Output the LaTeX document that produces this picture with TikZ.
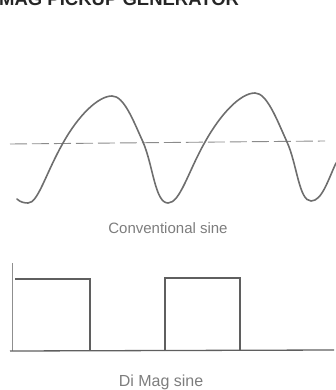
\documentclass[tikz,border=0pt]{standalone}
\usepackage{fontspec}
\setmainfont{Liberation Sans}
\definecolor{wave}{RGB}{110,110,110}
\definecolor{sq}{RGB}{95,95,95}
\definecolor{cap}{RGB}{125,125,125}
\tikzset{
  wavepath/.style={draw=wave, line width=1.6pt, line cap=round, line join=round},
  sqpath/.style={draw=sq, line width=1.3pt, line join=miter},
  axisline/.style={draw=sq!70, line width=0.9pt},
  refline/.style={draw=wave!80, line width=0.9pt, dash pattern=on 17pt off 5pt},
  captext/.style={text=cap, font=\fontsize{15}{17}\selectfont, inner sep=0pt},
  titletext/.style={text=black!85, font=\bfseries\fontsize{18.5}{20}\selectfont, inner sep=0pt, anchor=base west}
}
\begin{document}
\begin{tikzpicture}[x=1pt, y=-1pt]
\useasboundingbox (0,0) rectangle (336,390);
% partial title cut by top edge
\node[titletext] (title) at (-1,5.5) {MAG PICKUP GENERATOR};
% reference dashed line
\coordinate (dl) at (10,144);
\coordinate (dr) at (325,141);
\draw[refline] (dl) -- (dr);
% conventional sine
\draw[wavepath] (17,199) .. controls (20,202) and (24,203) .. (28,203)
  .. controls (38,203) and (45,175) .. (63,143)
  .. controls (78,116) and (98,96) .. (112,96)
  .. controls (124,96) and (133,120) .. (143,142)
  .. controls (153,165) and (155,203) .. (168,203)
  .. controls (180,203) and (188,172) .. (205,142)
  .. controls (220,115) and (240,93) .. (255,93)
  .. controls (267,93) and (277,120) .. (287,142)
  .. controls (297,164) and (299,201) .. (311,201)
  .. controls (322,201) and (328,180) .. (336,163);
\node[captext] (c1) at (168,228) {Conventional sine};
% Di Mag square wave
\coordinate (ax) at (12,263);
\coordinate (ab) at (12,351);
\draw[axisline] (ax) -- (ab);
\coordinate (bl) at (10,351);
\coordinate (br) at (334,350);
\draw[sqpath] (bl) -- (br);
\draw[sqpath] (15,279) -- (90,279) -- (90,351);
\draw[sqpath] (165,351) -- (165,278) -- (240,278) -- (240,350.5);
\node[captext, font=\fontsize{16}{18}\selectfont] (c2) at (161,382) {Di Mag sine};
\end{tikzpicture}
\end{document}
